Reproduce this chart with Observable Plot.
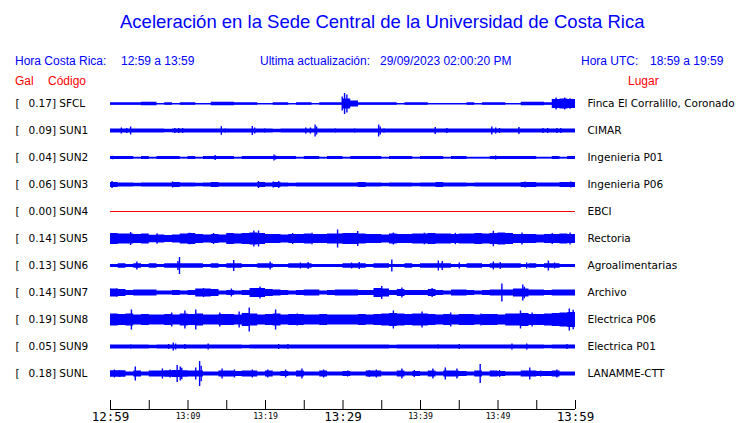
<!DOCTYPE html>
<html>
<head>
<meta charset="utf-8">
<script src="https://cdn.jsdelivr.net/npm/d3@7"></script>
<script src="https://cdn.jsdelivr.net/npm/@observablehq/plot@0.6"></script>
<style>
  body { margin: 0; width: 740px; height: 423px; position: relative; overflow: hidden; background: #fff; }
  .h { position: absolute; white-space: pre; line-height: 1; font-family: "Liberation Sans", Arial, sans-serif; }
  .blue { color: #0000ff; }
  .red { color: #ff0000; }
  #chart { position: absolute; left: 0; top: 90px; }
</style>
</head>
<body>
<div id="header"></div>
<div id="chart"></div>
<script>
// ---------- data ----------
const title = "Aceleración en la Sede Central de la Universidad de Costa Rica";
const headerTexts = ["Hora Costa Rica:", "12:59 a 13:59", "Ultima actualización:", "29/09/2023 02:00:20 PM", "Hora UTC:", "18:59 a 19:59"];
const columnTexts = ["Gal", "Código", "Lugar"];

const codes = ["SFCL", "SUN1", "SUN2", "SUN3", "SUN4", "SUN5", "SUN6", "SUN7", "SUN8", "SUN9", "SUNL"];
const peakGal = [0.17, 0.09, 0.04, 0.06, 0.00, 0.14, 0.13, 0.14, 0.19, 0.05, 0.18];
const places = ["Finca El Corralillo, Coronado", "CIMAR", "Ingenieria P01", "Ingenieria P06", "EBCI", "Rectoria",
  "Agroalimentarias", "Archivo", "Electrica P06", "Electrica P01", "LANAMME-CTT"];

// minutes after 12:59
const tickMinutes = [0, 5, 10, 15, 20, 25, 30, 35, 40, 45, 50, 55, 60];
const bigLabelMinutes = [0, 30, 60];
const bigLabels = ["12:59", "13:29", "13:59"];
const smallLabelMinutes = [10, 20, 40, 50];
const smallLabels = ["13:09", "13:19", "13:39", "13:49"];

// per-minute half-amplitude envelopes (Gal), 60 one-minute bins
const envSFCL = [.018,.018,.018,.02,.026,.026,.009,.018,.009,.018, .018,.009,.009,.026,.026,.026,.02,.02,.02,.009,
  .009,.02,.018,.009,.018,.018,.009,.02,.02,.02, .078,.047,.018,.018,.018,.018,.018,.009,.018,.018,
  .018,.009,.009,.009,.009,.009,.018,.009,.018,.018, .018,.009,.009,.026,.026,.026,.018,.07,.078,.07];
const envSUN1 = [.03,.03,.03,.03,.03,.03,.03,.028,.03,.03, .03,.03,.03,.03,.03,.03,.03,.03,.03,.03,
  .03,.028,.03,.03,.03,.03,.03,.03,.03,.03, .03,.03,.03,.03,.03,.033,.033,.03,.033,.033,
  .033,.033,.03,.03,.03,.033,.033,.03,.03,.03, .03,.03,.03,.03,.03,.03,.03,.03,.03,.03];
const envSUN2 = [.022,.022,.022,.012,.022,.012,.022,.022,.022,.012, .022,.012,.022,.022,.022,.022,.012,.022,.022,.022,
  .022,.022,.022,.022,.012,.022,.022,.012,.022,.022, .012,.022,.022,.022,.022,.012,.022,.022,.022,.012,
  .022,.022,.022,.012,.022,.022,.012,.012,.012,.022, .022,.022,.022,.022,.022,.012,.012,.022,.012,.022];
const envSUN3 = [.039,.031,.031,.026,.031,.031,.031,.031,.039,.031, .031,.026,.031,.039,.031,.031,.031,.031,.031,.039,
  .031,.039,.031,.026,.031,.031,.031,.031,.031,.031, .031,.031,.039,.031,.031,.026,.031,.031,.031,.026,
  .031,.031,.039,.031,.031,.031,.026,.031,.031,.031, .031,.031,.031,.039,.039,.031,.031,.031,.039,.039];
const envSUN5 = [.086,.078,.078,.07,.078,.059,.062,.054,.062,.078, .086,.07,.062,.07,.062,.086,.078,.086,.093,.086,
  .07,.07,.062,.07,.07,.078,.07,.07,.078,.078, .086,.086,.078,.07,.07,.062,.078,.07,.07,.078,
  .078,.086,.078,.078,.07,.078,.078,.086,.078,.086, .093,.086,.07,.07,.07,.062,.07,.07,.078,.07];
const envSUN6 = [.025,.034,.025,.034,.025,.034,.025,.034,.034,.034, .034,.034,.025,.034,.025,.034,.034,.025,.025,.034,
  .034,.025,.025,.034,.034,.034,.025,.025,.025,.025, .034,.034,.034,.025,.034,.034,.025,.025,.034,.025,
  .034,.034,.034,.034,.025,.025,.034,.034,.025,.034, .034,.034,.034,.025,.034,.025,.034,.034,.025,.025];
const envSUN7 = [.062,.054,.039,.047,.047,.047,.031,.031,.039,.031, .039,.062,.062,.054,.031,.039,.031,.039,.07,.07,
  .054,.047,.039,.031,.039,.047,.047,.031,.039,.047, .047,.047,.039,.039,.07,.062,.039,.054,.039,.039,
  .039,.054,.039,.031,.047,.047,.039,.031,.039,.047, .047,.047,.062,.062,.047,.047,.039,.047,.047,.047];
const envSUN8 = [.093,.086,.093,.078,.086,.078,.078,.086,.078,.093, .086,.093,.078,.078,.086,.086,.078,.101,.093,.078,
  .086,.093,.078,.086,.086,.078,.078,.086,.078,.078, .078,.078,.086,.078,.086,.093,.101,.093,.086,.093,
  .093,.086,.078,.086,.078,.086,.086,.078,.086,.086, .078,.093,.093,.101,.086,.086,.093,.101,.109,.117];
const envSUN9 = [.03,.03,.03,.03,.03,.028,.03,.03,.03,.03, .03,.03,.03,.03,.03,.03,.03,.028,.03,.03,
  .03,.03,.03,.03,.03,.03,.03,.03,.03,.03, .03,.03,.03,.03,.03,.03,.028,.03,.03,.03,
  .03,.03,.03,.03,.03,.03,.03,.03,.03,.03, .03,.03,.03,.03,.03,.03,.028,.03,.03,.03];
const envSUNL = [.05,.05,.03,.045,.03,.045,.045,.05,.055,.05, .045,.045,.03,.03,.045,.045,.04,.045,.045,.03,
  .045,.03,.04,.03,.045,.03,.03,.045,.03,.03, .04,.03,.03,.045,.045,.03,.03,.045,.03,.04,
  .03,.045,.03,.045,.045,.04,.03,.045,.03,.045, .04,.03,.03,.045,.045,.04,.04,.045,.03,.03];

// individual peaks: [minute, half-amplitude in Gal]
const spkSFCL = [[29.9,.109],[30.2,.163],[30.5,.14],[30.8,.07],[57.5,.093],[58.6,.093],[59.3,.08]];
const spkSUN1 = [[1.4,.047],[2.1,.039],[2.6,.062],[8.3,.039],[8.8,.039],[9.3,.039],[14.3,.067],[14.8,.031],[18.3,.07],[18.6,.047],
  [19.9,.031],[25.2,.047],[25.8,.047],[26.4,.093],[26.6,.062],[29,.031],[31.5,.031],[34.6,.093],[34.8,.062],[35.3,.031],
  [41.9,.054],[43.4,.039],[49.2,.062],[49.7,.047],[50.2,.039],[52.7,.054],[55.8,.039],[56.4,.039],[57.6,.039],[58.1,.039]];
const spkSUN2 = [[0.3,.028],[13.5,.039],[21.1,.047],[21.3,.031],[49.7,.031]];
const spkSUN3 = [[0.2,.054],[8,.047],[13.5,.039],[19.1,.054],[21,.047],[21.7,.054],[32,.039],[42.2,.039],[53.5,.047],[59.4,.047],[59.7,.039]];
const spkSUN5 = [[2.6,.101],[6,.08],[10.2,.09],[13.3,.085],[18.5,.124],[19.1,.124],[23.5,.085],[26,.09],[29.3,.14],[31.9,.117],
  [36.5,.093],[40.5,.09],[44.5,.088],[49.4,.12],[53.1,.093],[57,.085],[59.3,.093]];
const spkSUN6 = [[3.4,.062],[8.7,.07],[8.9,.132],[15.9,.086],[20.6,.062],[24.5,.047],[25.5,.054],[31.1,.047],[32.1,.054],[36.3,.093],
  [42.3,.078],[42.8,.07],[45,.047],[49.4,.062],[50.3,.054],[53.7,.047],[56.5,.078],[57.3,.047]];
const spkSUN7 = [[0.8,.062],[12,.07],[15.6,.062],[19.3,.093],[35,.101],[37.6,.078],[41.5,.07],[50.5,.14],[53.2,.124],[53.4,.09]];
const spkSUN8 = [[2.7,.156],[7.9,.109],[9.6,.14],[11,.156],[14.1,.109],[16.6,.124],[17.9,.187],[21.3,.156],[24.1,.093],[36.5,.14],
  [40.2,.124],[43.9,.109],[47.8,.093],[52.9,.14],[54.4,.109],[59.2,.171],[59.7,.15]];
const spkSUN9 = [[2.6,.031],[7.5,.039],[8.1,.062],[8.4,.047],[9.6,.039],[12.6,.047],[21.7,.039],[22.9,.039],[42.3,.031],[45,.039],
  [51.8,.047],[53.7,.047],[58.9,.039]];
const spkSUNL = [[0.5,.062],[1.2,.054],[3.2,.109],[6.7,.078],[7.7,.062],[8.6,.132],[9,.11],[9.2,.09],[11,.093],[11.5,.194],
  [11.7,.12],[14.4,.078],[16,.062],[18.3,.062],[20.3,.062],[22.6,.062],[24.7,.078],[27.5,.062],[30.6,.047],[33.4,.054],
  [34.3,.062],[37.6,.078],[39.2,.054],[41.6,.078],[43.2,.093],[44.7,.078],[47.7,.148],[50.2,.054],[54.1,.093],[55.5,.047],[57.6,.062]];

// ---------- header (HTML) ----------
const BLUE = "#0000ff", RED = "#ff0000";
const header = document.getElementById("header");
function addText(txt, left, baseline, size, cls) {
  const s = document.createElement("div");
  s.className = "h " + cls;
  s.textContent = txt;
  s.style.left = left + "px";
  s.style.top = (baseline - 0.8465 * size) + "px";
  s.style.fontSize = size + "px";
  header.appendChild(s);
}
addText(title, 120, 29, 18.5, "blue");
const headerX = [15, 121, 260, 380, 581, 650];
headerTexts.forEach((t, i) => addText(t, headerX[i], 65, 12, "blue"));
const colX = [15, 48, 628];
columnTexts.forEach((t, i) => addText(t, colX[i], 85, 12, "red"));

// ---------- tables for marks ----------
const envByCode = {SFCL: envSFCL, SUN1: envSUN1, SUN2: envSUN2, SUN3: envSUN3, SUN5: envSUN5, SUN6: envSUN6,
  SUN7: envSUN7, SUN8: envSUN8, SUN9: envSUN9, SUNL: envSUNL};
const spkByCode = {SFCL: spkSFCL, SUN1: spkSUN1, SUN2: spkSUN2, SUN3: spkSUN3, SUN5: spkSUN5, SUN6: spkSUN6,
  SUN7: spkSUN7, SUN8: spkSUN8, SUN9: spkSUN9, SUNL: spkSUNL};

const stations = codes.map((c, i) => ({code: c, peak: peakGal[i], place: places[i]}));
const envRows = [];
for (const c of codes) {
  const e = envByCode[c];
  if (!e) continue;
  e.forEach((a, i) => envRows.push({code: c, t: i, a}));
  envRows.push({code: c, t: e.length, a: e[e.length - 1]}); // close the last step
}
const spikeRows = [];
for (const c of codes) {
  const s = spkByCode[c];
  if (!s) continue;
  s.forEach(([t, a]) => spikeRows.push({code: c, t, a}));
}
const lastCode = codes[codes.length - 1];
const textFont = "DejaVu Sans";
const tickFont = "DejaVu Sans Mono";

const chart = Plot.plot({
  width: 740,
  height: 333,
  marginLeft: 110,
  marginRight: 165,
  marginTop: 0,
  marginBottom: 36,
  x: {domain: [0, 60], axis: null},
  y: {domain: [-0.21, 0.21], axis: null},
  fy: {domain: codes, padding: 0, axis: null},
  style: {background: "white", color: "black", fontFamily: textFont, overflow: "visible"},
  marks: [
    // center lines
    Plot.ruleY(stations.filter(d => d.peak > 0), {fy: "code", y: () => 0, x1: () => 0, x2: () => 60, stroke: BLUE, strokeWidth: 1}),
    Plot.ruleY(stations.filter(d => d.peak === 0), {fy: "code", y: () => 0, x1: () => 0, x2: () => 60, dy: -0.5, stroke: RED, strokeWidth: 1}),
    // envelopes
    Plot.areaY(envRows, {fy: "code", x: "t", y1: d => -d.a, y2: "a", curve: "step-after", fill: BLUE}),
    // peaks
    Plot.ruleX(spikeRows, {fy: "code", x: "t", y1: d => -d.a, y2: "a", stroke: BLUE, strokeWidth: 1.4}),
    // left labels
    Plot.text(stations, {fy: "code", frameAnchor: "left", lineAnchor: "middle", text: () => "[", textAnchor: "start", dx: -95, fontSize: 10.5, fontFamily: textFont}),
    Plot.text(stations, {fy: "code", frameAnchor: "left", lineAnchor: "middle", text: d => d.peak.toFixed(2) + "] " + d.code, textAnchor: "start", dx: -82, fontSize: 10.5, fontFamily: textFont}),
    // right labels
    Plot.text(stations, {fy: "code", frameAnchor: "right", lineAnchor: "middle", text: "place", textAnchor: "start", dx: 12, fontSize: 10.5, fontFamily: textFont}),
    // time axis (below the last trace)
    Plot.ruleY([lastCode], {fy: d => d, y: () => -0.21, x1: () => 0, x2: () => 60, dy: 22, stroke: "black", strokeWidth: 1.2}),
    Plot.ruleX(tickMinutes, {fy: () => lastCode, x: d => d, insetTop: 18, dy: 22, stroke: "black"}),
    Plot.text(bigLabelMinutes, {fy: () => lastCode, x: d => d, text: (d, i) => bigLabels[i], frameAnchor: "bottom", lineAnchor: "middle", dy: 29.7, fontSize: 12.5, fontFamily: tickFont}),
    Plot.text(smallLabelMinutes, {fy: () => lastCode, x: d => d, text: (d, i) => smallLabels[i], frameAnchor: "bottom", lineAnchor: "middle", dy: 29.2, fontSize: 8.2, fontFamily: tickFont})
  ]
});
document.getElementById("chart").appendChild(chart);
</script>
</body>
</html>
